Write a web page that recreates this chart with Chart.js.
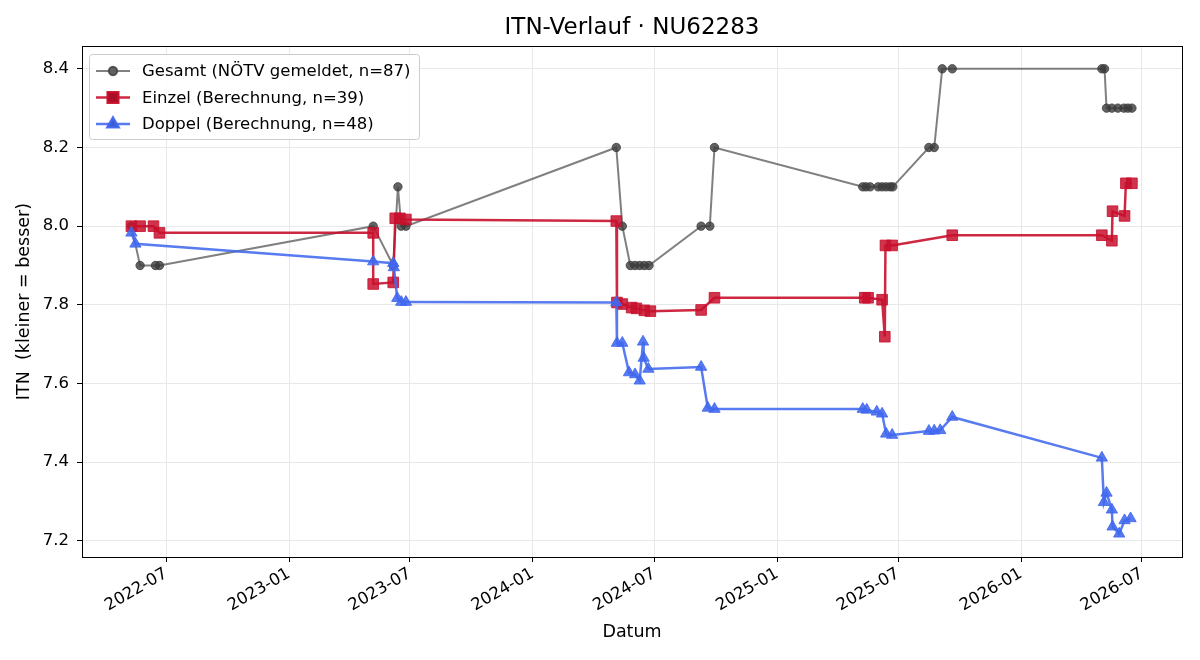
<!DOCTYPE html>
<html>
<head>
<meta charset="utf-8">
<script src="https://cdn.jsdelivr.net/npm/chart.js@4/dist/chart.umd.min.js"></script>
<style>
  html, body { margin: 0; padding: 0; background: #fff; }
  #wrap { width: 1200px; height: 660px; }
</style>
</head>
<body>
<div id="wrap"><canvas id="chart" width="1200" height="660"></canvas></div>
<script>
// Gesamt (NÖTV gemeldet)
const gesamtDates = [
  '2022-05-10', '2022-05-23', '2022-06-15', '2022-06-21',
  '2023-05-07', '2023-06-06', '2023-06-13', '2023-06-18', '2023-06-25',
  '2024-05-05', '2024-05-14', '2024-05-26', '2024-06-02', '2024-06-09', '2024-06-16', '2024-06-23',
  '2024-09-09', '2024-09-22', '2024-09-29',
  '2025-05-09', '2025-05-14', '2025-05-20', '2025-06-01', '2025-06-07', '2025-06-13', '2025-06-19', '2025-06-23',
  '2025-08-16', '2025-08-24', '2025-09-05', '2025-09-20',
  '2026-05-02', '2026-05-06', '2026-05-09', '2026-05-17', '2026-05-26', '2026-06-04', '2026-06-10', '2026-06-16'
];
const gesamtITN = [
  8.0, 7.9, 7.9, 7.9,
  8.0, 7.9, 8.1, 8.0, 8.0,
  8.2, 8.0, 7.9, 7.9, 7.9, 7.9, 7.9,
  8.0, 8.0, 8.2,
  8.1, 8.1, 8.1, 8.1, 8.1, 8.1, 8.1, 8.1,
  8.2, 8.2, 8.4, 8.4,
  8.4, 8.4, 8.3, 8.3, 8.3, 8.3, 8.3, 8.3
];

// Einzel (Berechnung)
const einzelDates = [
  '2022-05-10', '2022-05-23', '2022-06-12', '2022-06-21',
  '2023-05-07', '2023-05-07', '2023-06-06', '2023-06-09', '2023-06-16', '2023-06-25',
  '2024-05-05', '2024-05-06', '2024-05-14', '2024-05-28', '2024-06-04', '2024-06-16', '2024-06-25',
  '2024-09-09', '2024-09-29',
  '2025-05-12', '2025-05-17', '2025-06-07', '2025-06-11', '2025-06-12', '2025-06-22',
  '2025-09-20',
  '2026-05-02', '2026-05-17', '2026-05-18', '2026-06-05', '2026-06-07', '2026-06-16'
];
const einzelITN = [
  8.0, 8.0, 8.0, 7.983,
  7.983, 7.853, 7.857, 8.02, 8.02, 8.017,
  8.013, 7.806, 7.802, 7.793, 7.791, 7.786, 7.784,
  7.787, 7.818,
  7.818, 7.818, 7.813, 7.719, 7.951, 7.951,
  7.977,
  7.977, 7.963, 8.038, 8.026, 8.109, 8.109
];

// Doppel (Berechnung)
const doppelDates = [
  '2022-05-10', '2022-05-16',
  '2023-05-07', '2023-06-06', '2023-06-07', '2023-06-12', '2023-06-18', '2023-06-25',
  '2024-05-05', '2024-05-06', '2024-05-14', '2024-05-24', '2024-06-02', '2024-06-09', '2024-06-14', '2024-06-15', '2024-06-22',
  '2024-09-09', '2024-09-19', '2024-09-29',
  '2025-05-09', '2025-05-15', '2025-05-30', '2025-06-07', '2025-06-13', '2025-06-22',
  '2025-08-16', '2025-08-24', '2025-09-02', '2025-09-20',
  '2026-05-02', '2026-05-05', '2026-05-09', '2026-05-17', '2026-05-18', '2026-05-28', '2026-06-05', '2026-06-14'
];
const doppelITN = [
  7.983, 7.955,
  7.910, 7.906, 7.895, 7.817, 7.807, 7.807,
  7.806, 7.703, 7.703, 7.628, 7.623, 7.607, 7.706, 7.665, 7.637,
  7.642, 7.538, 7.535,
  7.535, 7.533, 7.528, 7.523, 7.472, 7.469,
  7.479, 7.480, 7.481, 7.515,
  7.411, 7.298, 7.322, 7.279, 7.236, 7.218, 7.252, 7.257
];

const xTickDates = ['2022-07-01', '2023-01-01', '2023-07-01', '2024-01-01', '2024-07-01',
  '2025-01-01', '2025-07-01', '2026-01-01', '2026-07-01'];
const yTicks = [7.2, 7.4, 7.6, 7.8, 8.0, 8.2, 8.4];

const FONT = 'DejaVu Sans';
const FS = 16.5;
const FS_AXIS = 17.5;

function toPoints(dates, values) {
  let pts = [];
  for (let i in dates) {
    pts.push({ x: Date.parse(dates[i] + 'T00:00:00Z'), y: values[i] });
  }
  return pts;
}

function fmtMonth(ms) {
  const d = new Date(ms);
  return d.getUTCFullYear() + '-' + String(d.getUTCMonth() + 1).padStart(2, '0');
}

const series = [
  { label: 'Gesamt (NÖTV gemeldet, n=87)', line: 'rgba(85,85,85,0.75)', fill: 'rgba(60,60,60,0.8)', style: 'circle', radius: 4.2, width: 2 },
  { label: 'Einzel (Berechnung, n=39)', line: 'rgba(200,16,46,0.9)', fill: 'rgba(200,16,46,0.85)', style: 'rect', radius: 7.5, width: 2.5 },
  { label: 'Doppel (Berechnung, n=48)', line: 'rgba(65,105,238,0.88)', fill: 'rgba(65,105,238,0.88)', style: 'triangle', radius: 6.5, width: 2.5 }
];

// title, frame and legend drawn like the matplotlib original
const decor = {
  id: 'decor',
  afterDraw(chart) {
    const ctx = chart.ctx;
    const a = chart.chartArea;
    ctx.save();
    // frame
    ctx.strokeStyle = '#000';
    ctx.lineWidth = 1;
    ctx.strokeRect(Math.round(a.left) + 0.5, Math.round(a.top) + 0.5,
      Math.round(a.right - a.left), Math.round(a.bottom - a.top));
    // title
    ctx.fillStyle = '#000';
    ctx.font = '23px "' + FONT + '"';
    ctx.textAlign = 'center';
    ctx.textBaseline = 'middle';
    ctx.fillText('ITN-Verlauf · NU62283', (a.left + a.right) / 2, 28);
    // legend
    const bx = 89.5, by = 54.5, bw = 330, bh = 85;
    ctx.beginPath();
    ctx.roundRect(bx, by, bw, bh, 3);
    ctx.fillStyle = 'rgba(255,255,255,0.8)';
    ctx.fill();
    ctx.strokeStyle = '#cccccc';
    ctx.stroke();
    ctx.font = FS + 'px "' + FONT + '"';
    ctx.textAlign = 'left';
    for (let i = 0; i < series.length; i++) {
      const s = series[i];
      const y = 71 + i * 26.5;
      ctx.strokeStyle = s.line;
      ctx.lineWidth = s.width;
      ctx.beginPath();
      ctx.moveTo(96, y);
      ctx.lineTo(130, y);
      ctx.stroke();
      Chart.helpers.drawPoint(ctx, { pointStyle: s.style, radius: s.radius, borderWidth: 1, rotation: 0 }, 113, y);
      ctx.fillStyle = s.fill;
      ctx.fill();
      ctx.strokeStyle = s.fill;
      ctx.lineWidth = 1;
      ctx.stroke();
      ctx.fillStyle = '#000';
      ctx.fillText(s.label, 142, y + 1);
    }
    ctx.restore();
  }
};

const datasets = [
  [gesamtDates, gesamtITN, 2],
  [einzelDates, einzelITN, 1],
  [doppelDates, doppelITN, 0]
].map(function (d, i) {
  const s = series[i];
  return {
    label: s.label,
    data: toPoints(d[0], d[1]),
    order: d[2],
    borderColor: s.line,
    backgroundColor: s.fill,
    pointBackgroundColor: s.fill,
    pointBorderColor: s.fill,
    pointBorderWidth: 1,
    pointStyle: s.style,
    pointRadius: s.radius,
    borderWidth: s.width,
    tension: 0,
    fill: false
  };
});

new Chart(document.getElementById('chart'), {
  type: 'line',
  data: { datasets: datasets },
  plugins: [decor],
  options: {
    responsive: false,
    animation: false,
    events: [],
    layout: { padding: { top: 46, right: 18, left: 0, bottom: 0 } },
    plugins: {
      legend: { display: false },
      title: { display: false },
      tooltip: { enabled: false }
    },
    scales: {
      x: {
        type: 'linear',
        min: Date.UTC(2022, 1, 25),
        max: Date.UTC(2026, 7, 30),
        afterBuildTicks: function (scale) {
          scale.ticks = xTickDates.map(function (d) { return { value: Date.parse(d + 'T00:00:00Z') }; });
        },
        afterFit: function (scale) { scale.height = 103; },
        ticks: {
          callback: function (v) { return fmtMonth(v); },
          minRotation: 30,
          maxRotation: 30,
          autoSkip: false,
          padding: 2,
          color: '#000',
          font: { family: FONT, size: FS }
        },
        grid: { color: '#e8e8e8', tickColor: '#000', tickLength: 5 },
        border: { display: false },
        title: {
          display: true,
          text: 'Datum',
          color: '#000',
          font: { family: FONT, size: FS_AXIS },
          padding: { top: 0, bottom: 17 }
        }
      },
      y: {
        min: 7.159,
        max: 8.458,
        afterBuildTicks: function (scale) {
          scale.ticks = yTicks.map(function (v) { return { value: v }; });
        },
        afterFit: function (scale) { scale.width = 82; },
        ticks: {
          callback: function (v) { return v.toFixed(1); },
          padding: 8,
          color: '#000',
          font: { family: FONT, size: FS }
        },
        grid: { color: '#e8e8e8', tickColor: '#000', tickLength: 5 },
        border: { display: false },
        title: {
          display: true,
          text: 'ITN  (kleiner = besser)',
          color: '#000',
          font: { family: FONT, size: FS_AXIS },
          padding: { top: 14, bottom: 0 }
        }
      }
    }
  }
});
</script>
</body>
</html>
